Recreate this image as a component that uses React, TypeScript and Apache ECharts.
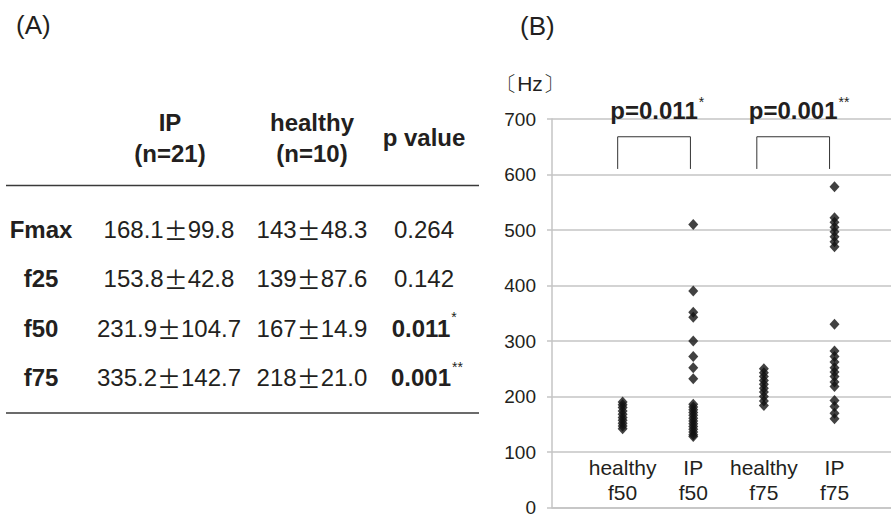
import React, { useEffect, useRef } from 'react';
import * as echarts from 'echarts';

// ---------- data: panel (B) scatter ----------
const categories = ['healthy\nf50', 'IP\nf50', 'healthy\nf75', 'IP\nf75'];
const healthyF50 = [190, 185, 180, 174, 168, 162, 157, 152, 147, 142];
const ipF50 = [510, 390, 352, 343, 300, 272, 252, 232, 186, 181, 176, 171, 166, 161, 156, 151, 146, 141, 136, 131, 128];
const healthyF75 = [250, 243, 236, 229, 222, 215, 208, 200, 192, 184];
const ipF75 = [578, 522, 514, 505, 497, 488, 479, 470, 330, 282, 272, 262, 252, 244, 236, 226, 218, 193, 182, 170, 160];
const groups = [healthyF50, ipF50, healthyF75, ipF75];
const yMin = 0;
const yMax = 700;
const yInterval = 100;

// comparison brackets (x in category units, y in Hz)
const bracketX = [[0.93, 1.96], [2.9, 3.93]];
const bracketBottom = 610;
const bracketTop = 668;
const comparisonText = ['p=0.011', 'p=0.001'];
const comparisonStars = ['*', '**'];
const comparisonLabelY = 716;

// ---------- data: panel (A) table ----------
const tableHeaders = ['IP\n(n=21)', 'healthy\n(n=10)', 'p value'];
const rowLabels = ['Fmax', 'f25', 'f50', 'f75'];
const ipMean = ['168.1', '153.8', '231.9', '335.2'];
const ipSd = ['99.8', '42.8', '104.7', '142.7'];
const healthyMean = ['143', '139', '167', '218'];
const healthySd = ['48.3', '87.6', '14.9', '21.0'];
const pValues = ['0.264', '0.142', '0.011', '0.001'];
const pBold = [false, false, true, true];
const pStars = ['', '', '*', '**'];

const FONT = '"Liberation Sans", Arial, Helvetica, sans-serif';
const INK = '#231f20';
const GRID = '#c4c4c4';
const TABLE_FS = 24;

function textWidth(text: string, font: string): number {
  const ctx = document.createElement('canvas').getContext('2d');
  if (!ctx) return text.length * 10;
  ctx.font = font;
  return ctx.measureText(text).width;
}

export default function App() {
  const ref = useRef<HTMLDivElement>(null);

  useEffect(() => {
    if (!ref.current) return;
    const chart = echarts.init(ref.current, null, { renderer: 'svg' });

    const scatterSeries = groups.map((vals, i) => ({
      type: 'scatter',
      name: categories[i],
      data: vals.map((v) => [i + 1, v]),
      symbol: 'diamond',
      symbolSize: [10, 11],
      itemStyle: { color: '#111' },
      silent: true,
    }));

    const bracketSeries = bracketX.map(([x0, x1]) => ({
      type: 'line',
      data: [
        [x0, bracketBottom],
        [x0, bracketTop],
        [x1, bracketTop],
        [x1, bracketBottom],
      ],
      symbol: 'none',
      lineStyle: { color: '#333', width: 1 },
      silent: true,
    }));

    chart.setOption({
      animation: false,
      backgroundColor: '#fff',
      grid: { left: 552, right: 0, top: 119, bottom: 5, containLabel: false },
      xAxis: {
        type: 'value',
        min: 0,
        max: 4.8,
        interval: 1,
        axisLine: { show: true, lineStyle: { color: GRID, width: 1.5 } },
        axisTick: { show: false },
        splitLine: { show: false },
        axisLabel: {
          inside: true,
          margin: 3,
          verticalAlign: 'bottom',
          lineHeight: 25,
          fontSize: 21,
          fontFamily: FONT,
          color: INK,
          showMaxLabel: false,
          formatter: (v: number) =>
            Number.isInteger(v) && v >= 1 && v <= categories.length ? categories[v - 1] : '',
        },
      },
      yAxis: {
        type: 'value',
        min: yMin,
        max: yMax,
        interval: yInterval,
        axisLine: { show: true, lineStyle: { color: GRID, width: 1.5 } },
        axisTick: { show: true, length: 5, lineStyle: { color: GRID, width: 1.5 } },
        splitLine: { show: true, lineStyle: { color: GRID, width: 1.5 } },
        axisLabel: { fontSize: 19, fontFamily: FONT, color: INK, margin: 16 },
      },
      series: [...scatterSeries, ...bracketSeries],
    });

    const g: any[] = [];
    const txt = (text: string, x: number, y: number, size: number, weight: string, align = 'center', extra: any = {}) => ({
      type: 'text',
      silent: true,
      style: {
        text,
        x,
        y,
        fontSize: size,
        fontFamily: FONT,
        fontWeight: weight,
        fill: INK,
        align,
        verticalAlign: 'middle',
        ...extra,
      },
    });

    // panel letters
    g.push(txt('(A)', 16, 25, 26, 'normal', 'left'));
    g.push(txt('(B)', 520, 26, 26, 'normal', 'left'));
    g.push(txt('〔Hz〕', 530, 83, 21, 'normal', 'center'));

    // table headers
    const colX = [170, 312, 424];
    tableHeaders.forEach((h, i) => {
      g.push(txt(h, colX[i], i === 2 ? 137 : 138, TABLE_FS, 'bold', 'center', { lineHeight: 31 }));
    });

    // rules
    const rule = (y: number) => ({
      type: 'line',
      silent: true,
      shape: { x1: 6, y1: y, x2: 479, y2: y },
      style: { stroke: '#3a3a3a', lineWidth: 1.5 },
    });
    g.push(rule(185.5));
    g.push(rule(413));

    // table rows
    const rowY = [229, 278.5, 328, 377.5];
    const rich = {
      n: { fontSize: TABLE_FS, fontFamily: FONT, fill: INK },
      pm: { fontSize: TABLE_FS, fontFamily: '"Noto Sans CJK JP", ' + FONT, fill: INK },
    };
    rowLabels.forEach((lab, r) => {
      const y = rowY[r];
      g.push(txt(lab, 41, y, TABLE_FS, 'bold'));
      g.push(txt(`{n|${ipMean[r]}}{pm|±}{n|${ipSd[r]}}`, 169, y, TABLE_FS, 'normal', 'center', { rich }));
      g.push(txt(`{n|${healthyMean[r]}}{pm|±}{n|${healthySd[r]}}`, 312, y, TABLE_FS, 'normal', 'center', { rich }));
      const weight = pBold[r] ? 'bold' : 'normal';
      const px = pBold[r] ? 421 : 424;
      g.push(txt(pValues[r], px, y, TABLE_FS, weight));
      if (pStars[r]) {
        const w = textWidth(pValues[r], `${weight} ${TABLE_FS}px ${FONT}`);
        g.push(txt(pStars[r], px + w / 2 + 1, y - 11, 14, 'normal', 'left'));
      }
    });

    // comparison labels above brackets
    bracketX.forEach(([x0, x1], i) => {
      const [px, py] = chart.convertToPixel({ gridIndex: 0 }, [(x0 + x1) / 2, comparisonLabelY]) as number[];
      g.push(txt(comparisonText[i], px, py, TABLE_FS, 'bold'));
      const w = textWidth(comparisonText[i], `bold ${TABLE_FS}px ${FONT}`);
      g.push(txt(comparisonStars[i], px + w / 2 + 1, py - 8, 14, 'normal', 'left'));
    });

    chart.setOption({ graphic: g });

    return () => chart.dispose();
  }, []);

  return (
    <div
      ref={ref}
      style={{ position: 'fixed', left: 0, top: 0, width: 891, height: 517, background: '#fff' }}
    />
  );
}
